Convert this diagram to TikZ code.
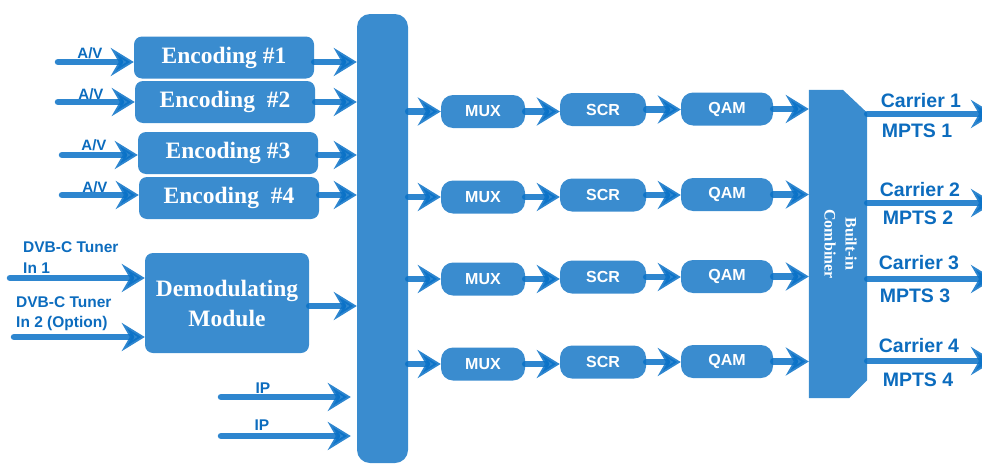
\documentclass[tikz,border=0pt]{standalone}
\usepackage{fontspec}
\setmainfont{Liberation Serif}
\setsansfont{Liberation Sans}
\usetikzlibrary{arrows.meta}
\definecolor{boxblue}{RGB}{58,140,207}
\definecolor{arrblue}{RGB}{9,113,199}
\definecolor{txtblue}{RGB}{12,108,190}
\tikzset{
  blk/.style={fill=boxblue, rounded corners=8pt, text=white, inner sep=0pt},
  encbox/.style={blk, minimum width=180pt, minimum height=42pt, font=\fontsize{23.5}{26}\selectfont\bfseries},
  pill/.style={blk, rounded corners=12pt, minimum height=33pt, font=\fontsize{16}{18}\selectfont\sffamily\bfseries},
  flow/.style={draw=arrblue, line width=6.5pt, line cap=round, opacity=0.85,
    -{Stealth[length=23pt,width=28pt,inset=8pt]}},
  lbl/.style={text=txtblue, inner sep=0pt, font=\fontsize{15.5}{17}\selectfont\sffamily\bfseries},
  avlbl/.style={text=txtblue, inner sep=0pt, font=\fontsize{15}{17}\selectfont\sffamily\bfseries},
  biglbl/.style={text=txtblue, inner sep=0pt, font=\fontsize{19.5}{21}\selectfont\sffamily\bfseries},
}
\begin{document}
\begin{tikzpicture}[x=1pt,y=-1pt]
\useasboundingbox (0,0) rectangle (982,463);
\clip (0,0) rectangle (982,463);

% bus
\node[fill=boxblue, rounded corners=13pt, minimum width=51pt, minimum height=449pt, inner sep=0pt] (bus) at (382.5,238.5) {};

% encoders
\node[encbox] (enc1) at (224,57.5) {Encoding \#1};
\node[encbox] (enc2) at (225,102) {Encoding\ \ \#2};
\node[encbox] (enc3) at (228,153) {Encoding \#3};
\node[encbox] (enc4) at (229,198) {Encoding\ \ \#4};

\coordinate (av1) at (58,62);
\coordinate (av2) at (58,102);
\coordinate (av3) at (62,155);
\coordinate (av4) at (62,195);
\node[avlbl] (lav1) at (90,53) {A/V};
\node[avlbl] (lav2) at (91,94) {A/V};
\node[avlbl] (lav3) at (94,145) {A/V};
\node[avlbl] (lav4) at (95,187) {A/V};
\foreach \i in {1,2,3,4} {
  \draw[flow] (av\i) -- (av\i -| enc\i.west);
  \draw[flow] (enc\i.east |- av\i) -- (av\i -| bus.west);
}

% demodulator
\node[blk, minimum width=164pt, minimum height=100pt, align=center, font=\fontsize{23.5}{30}\selectfont\bfseries] (demod) at (227,303) {Demodulating\\Module};
\coordinate (t1) at (10,278);
\coordinate (t2) at (14,337);
\draw[flow] (t1) -- (t1 -| demod.west);
\draw[flow] (t2) -- (t2 -| demod.west);
\node[lbl, anchor=west] (lt1a) at (23,247) {DVB-C Tuner};
\node[lbl, anchor=west] (lt1b) at (23,268) {In 1};
\node[lbl, anchor=west] (lt2a) at (16,302) {DVB-C Tuner};
\node[lbl, anchor=west] (lt2b) at (16,323) {In 2 (Option)};
\draw[flow] ([yshift=-3pt]demod.east) -- ([yshift=-3pt]demod.east -| bus.west);

% IP
\coordinate (ip1) at (221,397);
\coordinate (ip2) at (221,436);
\draw[flow] (ip1) -- ([xshift=-6pt]ip1 -| bus.west);
\draw[flow] (ip2) -- ([xshift=-6pt]ip2 -| bus.west);
\node[lbl] (lip1) at (263,388) {IP};
\node[lbl] (lip2) at (262,425) {IP};

% combiner
\node[minimum width=58pt, minimum height=308pt, inner sep=0pt] (comb) at (838,244) {};
\fill[boxblue] (comb.north west) -- ++(34,0) -- ([yshift=-23pt]comb.north east) -- ([yshift=18pt]comb.south east) -- ([xshift=-18pt]comb.south east) -- (comb.south west) -- cycle;
\node[text=white, rotate=-90, align=center, inner sep=0pt, font=\fontsize{16}{21}\selectfont\bfseries] (combtext) at ([xshift=2.5pt]comb.center) {Built-in\\Combiner};

% rows
\foreach \i/\y in {1/111.5, 2/197, 3/279, 4/364} {
  \node[pill, minimum width=84pt] (mux\i) at (483,\y) {MUX};
  \node[pill, minimum width=86pt] (scr\i) at (603,\y-2) {SCR};
  \node[pill, minimum width=92pt] (qam\i) at (727,\y-2.5) {QAM};
  \draw[flow] (mux\i.west -| bus.east) -- (mux\i.west);
  \draw[flow] (mux\i.east) -- (mux\i.east -| scr\i.west);
  \draw[flow] (scr\i.east) -- (scr\i.east -| qam\i.west);
  \draw[flow] (qam\i.east) -- (qam\i.east -| comb.west);
}

% outputs
\foreach \i/\y in {1/114, 2/203, 3/279, 4/361} {
  \coordinate (o\i) at (994,\y);
  \draw[flow] (o\i -| comb.east) -- (o\i);
}
\node[biglbl] (car1) at (921,101) {Carrier 1};
\node[biglbl] (mp1) at (917,131) {MPTS 1};
\node[biglbl] (car2) at (920,190) {Carrier 2};
\node[biglbl] (mp2) at (918,218) {MPTS 2};
\node[biglbl] (car3) at (919,263) {Carrier 3};
\node[biglbl] (mp3) at (915,296) {MPTS 3};
\node[biglbl] (car4) at (919,346) {Carrier 4};
\node[biglbl] (mp4) at (918,380) {MPTS 4};
\end{tikzpicture}
\end{document}
